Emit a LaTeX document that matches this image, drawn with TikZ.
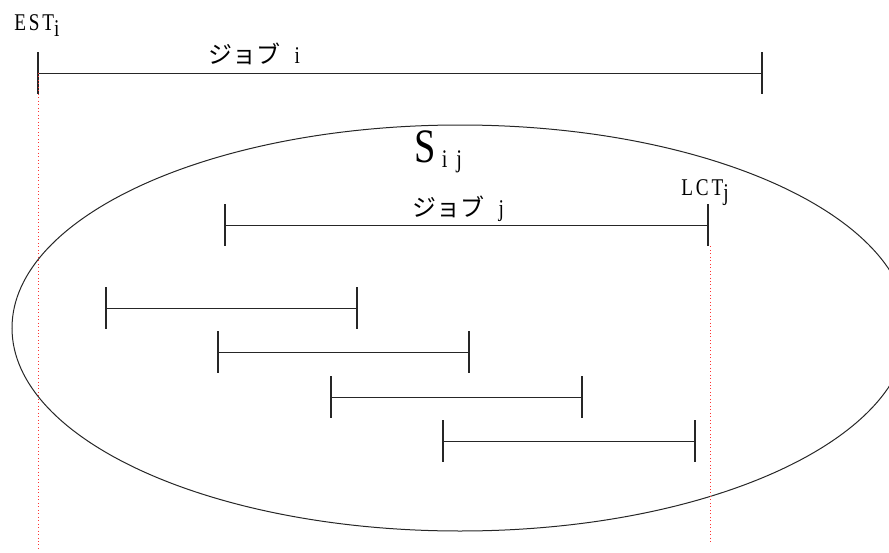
\documentclass[tikz,border=0pt]{standalone}
\usepackage{fontspec}
\setmainfont{Liberation Serif}[FakeStretch=0.8]
\newfontfamily\jpfont{Noto Sans CJK JP}
\newfontfamily\spacedfont{Liberation Serif}[FakeStretch=0.8, LetterSpace=12]
\usetikzlibrary{positioning}

\begin{document}
\begin{tikzpicture}[
    x=0.75pt, y=-0.75pt,
    bar/.style={draw=black!85, line width=0.75pt},
    tick/.style={draw=black!85, line width=1.2pt},
    guide/.style={draw=red!80, line width=0.6pt, dotted},
    setline/.style={draw=black!85, line width=0.75pt},
    timelbl/.style={font=\spacedfont\fontsize{18}{21}\selectfont, inner sep=0pt},
    joblbl/.style={font=\fontsize{18}{21}\selectfont, inner sep=0pt, anchor=base}
]
\useasboundingbox (0,0) rectangle (889,553);

% === S_ij: the set ===
\node[inner sep=0pt] (setc) at (460,328) {};
\draw[setline] (setc) ellipse [x radius=336pt, y radius=152.25pt];
\node[inner sep=0pt, anchor=base west, font=\fontsize{36}{40}\selectfont] (sij) at (414,162)
    {S\raisebox{-3.75pt}{\fontsize{19}{22}\selectfont\hspace{0.25em}i\hspace{0.35em}j}};

% === Job i ===
\coordinate (ia) at (38,73);
\coordinate (ib) at (762,73);
\draw[bar] (ia) -- (ib);
\draw[tick] (ia) ++(0,-21) -- ++(0,42);
\draw[tick] (ib) ++(0,-21) -- ++(0,42);
\node[timelbl, anchor=base west] (esti) at (14,31) {EST\raisebox{-4.5pt}{i}};
\node[joblbl] (jobi) at (254,63) {{\jpfont ジョブ}\hspace{0.6em}i};

% === Job j ===
\coordinate (ja) at (225,225);
\coordinate (jb) at (708,225);
\draw[bar] (ja) -- (jb);
\draw[tick] (ja) ++(0,-21) -- ++(0,42);
\draw[tick] (jb) ++(0,-21) -- ++(0,42);
\node[timelbl, anchor=base west] (lctj) at (681,195) {LCT\raisebox{-3.75pt}{j}};
\node[joblbl] (jobj) at (458,216) {{\jpfont ジョブ}\hspace{0.6em}j};

% === other jobs in S_ij ===
\coordinate (ka) at (106,308);
\coordinate (kb) at (357,308);
\draw[bar] (ka) -- (kb);
\draw[tick] (ka) ++(0,-21) -- ++(0,42);
\draw[tick] (kb) ++(0,-21) -- ++(0,42);

\coordinate (la) at (218,352);
\coordinate (lb) at (469,352);
\draw[bar] (la) -- (lb);
\draw[tick] (la) ++(0,-21) -- ++(0,42);
\draw[tick] (lb) ++(0,-21) -- ++(0,42);

\coordinate (ma) at (331,397);
\coordinate (mb) at (582,397);
\draw[bar] (ma) -- (mb);
\draw[tick] (ma) ++(0,-21) -- ++(0,42);
\draw[tick] (mb) ++(0,-21) -- ++(0,42);

\coordinate (na) at (443,441);
\coordinate (nb) at (695,441);
\draw[bar] (na) -- (nb);
\draw[tick] (na) ++(0,-21) -- ++(0,42);
\draw[tick] (nb) ++(0,-21) -- ++(0,42);

% === EST / LCT guides ===
\coordinate (estend) at (38,551);
\coordinate (lctend) at (710,544);
\draw[guide] (ia) -- (estend);
\draw[guide] ([xshift=1.5pt, yshift=-16pt]jb) -- (lctend);

\end{tikzpicture}
\end{document}
